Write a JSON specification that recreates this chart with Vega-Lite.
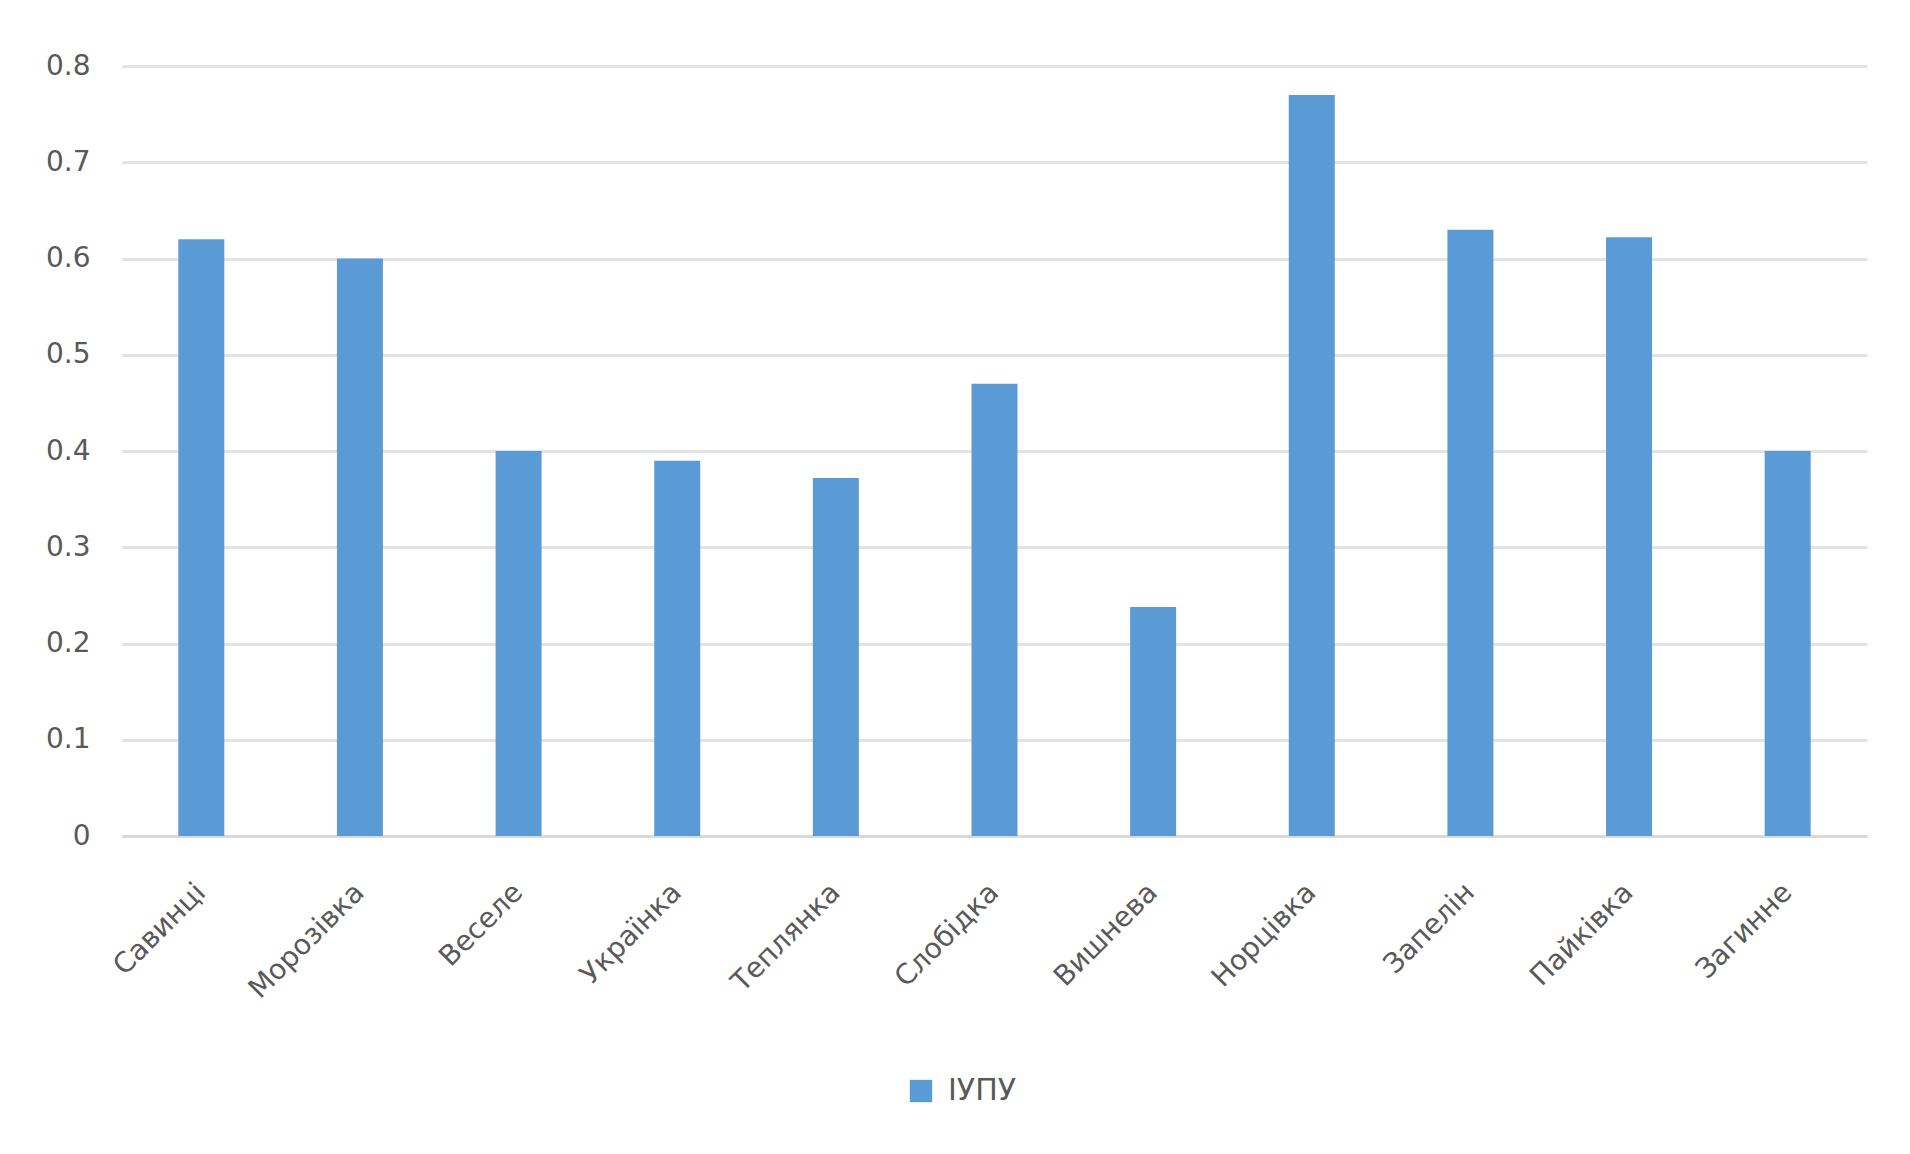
{
  "$schema": "https://vega.github.io/schema/vega-lite/v6.json",
  "autosize": "none",
  "width": 1745,
  "height": 770,
  "padding": {"left": 122, "top": 66, "right": 43, "bottom": 318},
  "background": "white",
  "config": {
    "font": "DejaVu Sans",
    "view": {"stroke": null}
  },
  "data": {
    "values": [
      {"name": "Савинці", "series": "ІУПУ", "value": 0.62},
      {"name": "Морозівка", "series": "ІУПУ", "value": 0.60},
      {"name": "Веселе", "series": "ІУПУ", "value": 0.40},
      {"name": "Українка", "series": "ІУПУ", "value": 0.39},
      {"name": "Теплянка", "series": "ІУПУ", "value": 0.372},
      {"name": "Слобідка", "series": "ІУПУ", "value": 0.47},
      {"name": "Вишнева", "series": "ІУПУ", "value": 0.238},
      {"name": "Норцівка", "series": "ІУПУ", "value": 0.77},
      {"name": "Запелін", "series": "ІУПУ", "value": 0.63},
      {"name": "Пайківка", "series": "ІУПУ", "value": 0.622},
      {"name": "Загинне", "series": "ІУПУ", "value": 0.40}
    ]
  },
  "mark": {"type": "bar"},
  "encoding": {
    "x": {
      "field": "name",
      "type": "nominal",
      "sort": null,
      "title": null,
      "scale": {"paddingInner": 0.71, "paddingOuter": 0.355},
      "axis": {
        "labelAngle": -45,
        "labelAlign": "right",
        "labelBaseline": "middle",
        "labelFontSize": 28,
        "labelColor": "#595959",
        "labelPadding": 52,
        "labelOverlap": false,
        "ticks": false,
        "domainColor": "#d9d9d9",
        "domainWidth": 3
      }
    },
    "y": {
      "field": "value",
      "type": "quantitative",
      "title": null,
      "scale": {"domain": [0, 0.8], "nice": false},
      "axis": {
        "values": [0, 0.1, 0.2, 0.3, 0.4, 0.5, 0.6, 0.7, 0.8],
        "format": ".1~f",
        "labelFontSize": 28,
        "labelColor": "#595959",
        "labelPadding": 32,
        "ticks": false,
        "domain": false,
        "gridColor": "#e3e3e3",
        "gridWidth": 3
      }
    },
    "color": {
      "field": "series",
      "type": "nominal",
      "scale": {"range": ["#5b9bd5"]},
      "legend": {
        "title": null,
        "orient": "none",
        "legendX": 784,
        "legendY": 1010,
        "symbolType": "square",
        "symbolSize": 500,
        "labelOffset": 12,
        "labelFontSize": 30,
        "labelColor": "#595959"
      }
    }
  }
}
